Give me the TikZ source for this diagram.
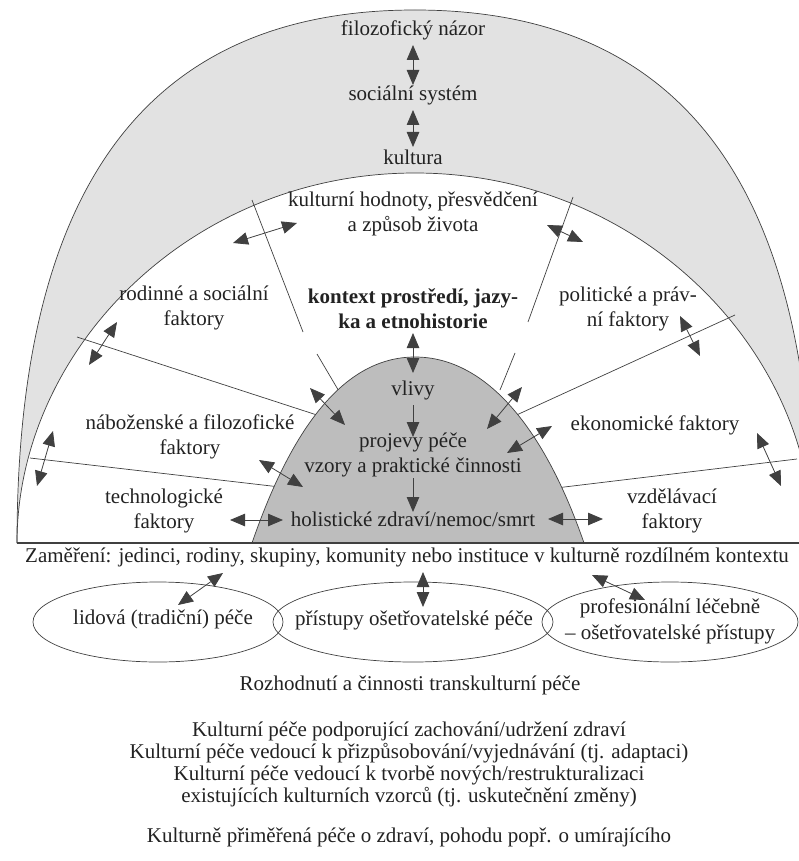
\documentclass[tikz,border=0pt]{standalone}
\usepackage{fontspec}
\setmainfont{Liberation Serif}
\usetikzlibrary{arrows.meta,shapes.geometric}
\definecolor{bandgray}{HTML}{E2E2E2}
\definecolor{moundgray}{HTML}{BDBDBD}
\definecolor{ink}{HTML}{404040}
\definecolor{txt}{HTML}{222222}
\tikzset{
  lbl/.style={text=txt, font=\fontsize{21}{25}\selectfont, align=center, inner sep=0pt},
  bodytxt/.style={text=txt, font=\fontsize{21}{22}\selectfont, align=center, inner sep=0pt},
  boldlbl/.style={text=txt, font=\fontsize{21}{25}\selectfont\bfseries, align=center, inner sep=0pt},
  rayline/.style={draw=ink, line width=0.7pt},
  bigtri/.tip={Triangle[length=15pt,width=12.5pt]},
  dbl/.style={draw=ink, line width=0.8pt, {bigtri}-{bigtri}},
  sgl/.style={draw=ink, line width=0.8pt, -{bigtri}},
  ovalbox/.style={draw=ink, line width=0.7pt, ellipse, inner sep=0pt},
}
\begin{document}
\begin{tikzpicture}[x=1pt,y=-1pt]
\useasboundingbox (0,0) rectangle (799,861);

% grey band between outer and inner arcs
\fill[bandgray] (17,543) .. controls (17,186) and (148,10) .. (415,10)
  .. controls (682,10) and (813,186) .. (813,543)
  .. controls (813,350) and (640,173) .. (415,173)
  .. controls (190,173) and (17,350) .. (17,543) -- cycle;
\draw[rayline] (17,543) .. controls (17,186) and (148,10) .. (415,10)
  .. controls (682,10) and (813,186) .. (813,543);
\draw[rayline] (17,543) .. controls (17,350) and (190,173) .. (415,173)
  .. controls (640,173) and (813,350) .. (813,543);

% rays
\draw[rayline] (252,200) -- (303,332);
\draw[rayline] (317,354) -- (340,393);
\draw[rayline] (573,197) -- (528,322);
\draw[rayline] (515,353) -- (500,390);
\draw[rayline] (77,337) -- (320,416);
\draw[rayline] (735,315) -- (510,418);
\draw[rayline] (30,458) -- (280,487);
\draw[rayline] (797,459) -- (556,488);

% central mound
\filldraw[fill=moundgray, draw=ink, line width=0.7pt] (252,543) .. controls (291,430) and (343,357) .. (415,357)
  .. controls (487,357) and (545,430) .. (584,543) -- cycle;

% base line
\draw[draw=ink, line width=1.5pt] (17,543) -- (813,543);

% labels
\node[lbl] (filo) at (413,30) {filozofický názor};
\node[lbl] (soc) at (413,95) {sociální systém};
\node[lbl] (kult) at (413,157) {kultura};
\node[lbl] (hodn) at (413,214) {kulturní hodnoty, přesvědčení\\a způsob života};
\node[lbl] (rod) at (194,308) {rodinné a sociální\\faktory};
\node[boldlbl] (ctx) at (413,309) {kontext prostředí, jazy-\\ka a etnohistorie};
\node[lbl] (pol) at (628,309) {politické a práv-\\ní faktory};
\node[lbl] (vliv) at (413,390) {vlivy};
\node[lbl] (proj) at (413,455) {projevy péče\\vzory a praktické činnosti};
\node[lbl] (hol) at (413,519) {holistické zdraví/nemoc/smrt};
\node[lbl] (nab) at (190,437) {náboženské a filozofické\\faktory};
\node[lbl] (tech) at (164,511) {technologické\\faktory};
\node[lbl] (eko) at (655,425) {ekonomické faktory};
\node[lbl] (vzd) at (672,511) {vzdělávací\\faktory};
\node[lbl, anchor=west] (zam) at (25,557) {Zaměření: jedinci, rodiny, skupiny, komunity nebo instituce v kulturně rozdílném kontextu};

% ellipses
\node[ovalbox, minimum width=250pt, minimum height=80pt] (e1) at (158,622) {};
\node[ovalbox, minimum width=280pt, minimum height=80pt] (e2) at (413,622) {};
\node[ovalbox, minimum width=256pt, minimum height=80pt] (e3) at (670,622) {};
\node[lbl] (t1) at (163,619) {lidová (tradiční) péče};
\node[lbl] (t2) at (414,620) {přístupy ošetřovatelské péče};
\node[lbl, font=\fontsize{21}{26}\selectfont] (t3) at (670,621) {profesionální léčebně\\– ošetřovatelské přístupy};

% bottom texts
\node[lbl] (roz) at (410,685) {Rozhodnutí a činnosti transkulturní péče};
\node[bodytxt] (kp) at (409,764) {Kulturní péče podporující zachování/udržení zdraví\\Kulturní péče vedoucí k přizpůsobování/vyjednávání (tj. adaptaci)\\Kulturní péče vedoucí k tvorbě nových/restrukturalizaci\\existujících kulturních vzorců (tj. uskutečnění změny)};
\node[bodytxt] (kpp) at (409,837) {Kulturně přiměřená péče o zdraví, pohodu popř. o umírajícího};

% arrow end points
\coordinate (a1s) at (413,45);  \coordinate (a1e) at (413,85);
\coordinate (a2s) at (413,110); \coordinate (a2e) at (413,147);
\coordinate (a3s) at (233,243); \coordinate (a3e) at (297,223);
\coordinate (a4s) at (547,225); \coordinate (a4e) at (583,242);
\coordinate (a5s) at (117,322); \coordinate (a5e) at (89,365);
\coordinate (a6s) at (680,316); \coordinate (a6e) at (700,356);
\coordinate (a7s) at (413,333); \coordinate (a7e) at (413,373);
\coordinate (s1s) at (413,405); \coordinate (s1e) at (413,437);
\coordinate (s2s) at (413,478); \coordinate (s2e) at (413,512);
\coordinate (a8s) at (230,520); \coordinate (a8e) at (283,520);
\coordinate (a9s) at (548,519); \coordinate (a9e) at (603,519);
\coordinate (a10s) at (310,388); \coordinate (a10e) at (345,425);
\coordinate (a11s) at (522,387); \coordinate (a11e) at (487,429);
\coordinate (a12s) at (259,460); \coordinate (a12e) at (303,487);
\coordinate (a13s) at (552,426); \coordinate (a13e) at (507,453);
\coordinate (a14s) at (53,431);  \coordinate (a14e) at (37,486);
\coordinate (a15s) at (757,433); \coordinate (a15e) at (781,486);
\coordinate (a16s) at (223,573); \coordinate (a16e) at (178,605);
\coordinate (a17s) at (423,572); \coordinate (a17e) at (423,607);
\coordinate (a18s) at (592,575); \coordinate (a18e) at (645,600);

\foreach \n in {a1,a2,a3,a4,a5,a6,a7,a8,a9,a10,a11,a12,a13,a14,a15,a16,a17,a18}
  \draw[dbl] (\n s) -- (\n e);
\draw[sgl] (s1s) -- (s1e);
\draw[sgl] (s2s) -- (s2e);
\end{tikzpicture}
\end{document}
